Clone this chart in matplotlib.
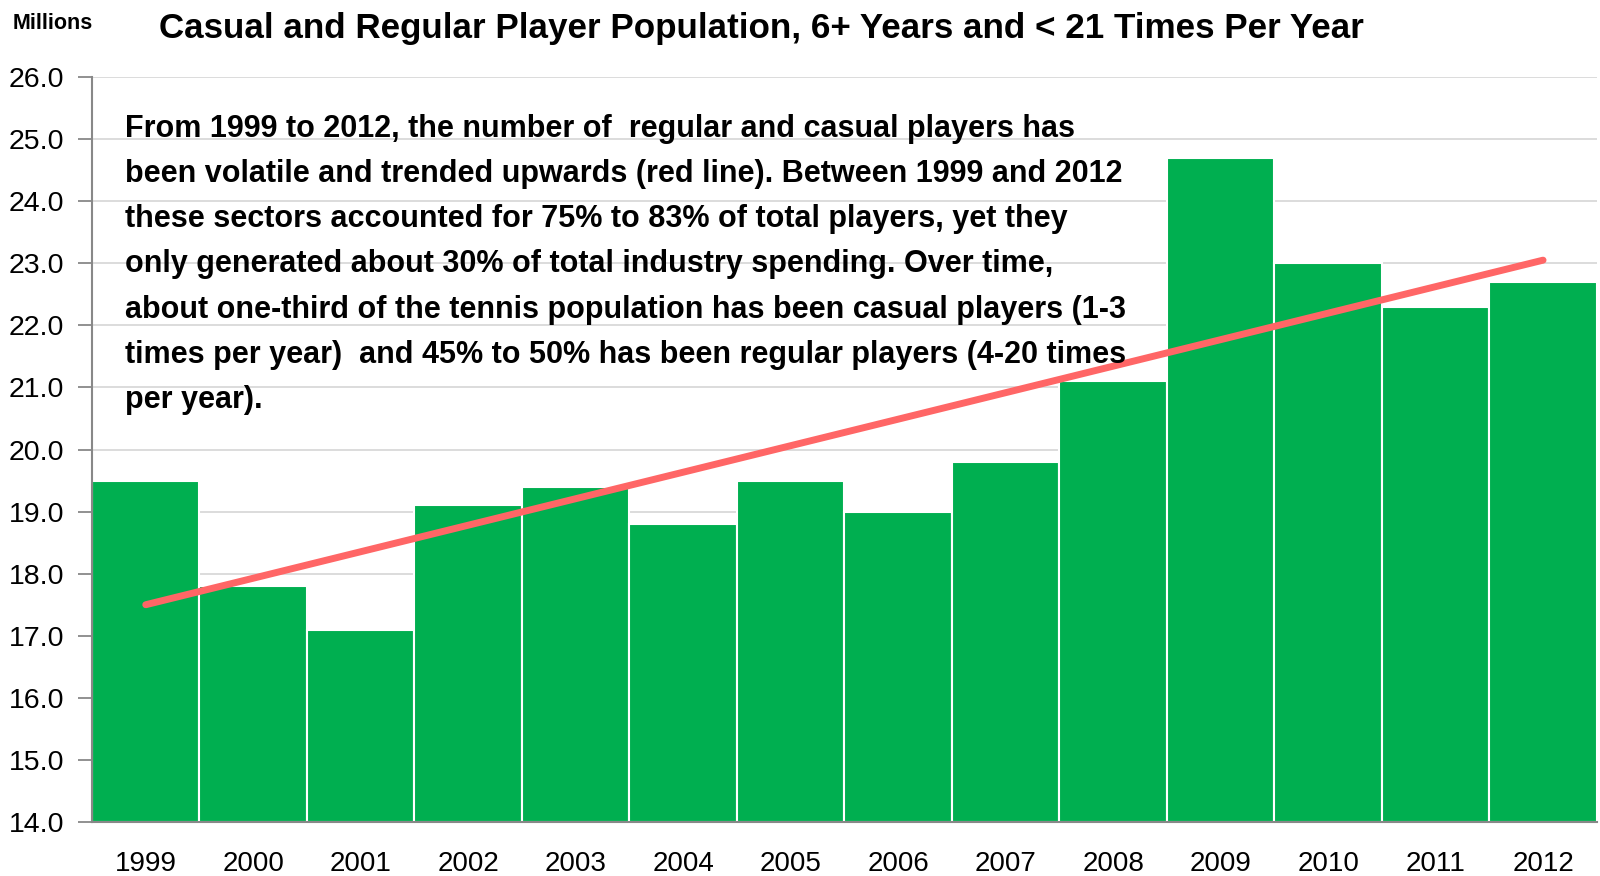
import matplotlib; matplotlib.use("Agg")
import matplotlib.pyplot as plt
import numpy as np

YEARS = ["1999","2000","2001","2002","2003","2004","2005","2006","2007","2008","2009","2010","2011","2012"]
PLAYERS = [19.5,17.8,17.1,19.1,19.4,18.8,19.5,19.0,19.8,21.1,24.7,23.0,22.3,22.7]
TREND = [17.5,23.05]   # trend line at 1999 and 2012
YTICKS = [14,15,16,17,18,19,20,21,22,23,24,25,26]

NOTE = ("From 1999 to 2012, the number of  regular and casual players has\n"
        "been volatile and trended upwards (red line). Between 1999 and 2012\n"
        "these sectors accounted for 75% to 83% of total players, yet they\n"
        "only generated about 30% of total industry spending. Over time,\n"
        "about one-third of the tennis population has been casual players (1-3\n"
        "times per year)  and 45% to 50% has been regular players (4-20 times\n"
        "per year).")

FAM = ["Liberation Sans Narrow", "Liberation Sans", "DejaVu Sans"]
plt.rcParams["font.family"] = FAM

fig = plt.figure(figsize=(16, 8.76), dpi=100)
ax = fig.add_axes([0.0575, 0.0616, 0.9405, 0.8505])
x = np.arange(len(YEARS))
ax.bar(x, [v - 14 for v in PLAYERS], bottom=14, width=1.0, color="#00AF50",
       edgecolor="white", lw=1.5, zorder=2)
ax.plot([x[0], x[-1]], TREND, color="#FF6666", lw=5, solid_capstyle="round", zorder=3)

ax.set_xlim(-0.5, len(YEARS) - 0.5)
ax.set_ylim(14, 26)
ax.set_yticks(YTICKS)
ax.set_yticklabels([f"{v:.1f}" for v in YTICKS], fontsize=20.5)
ax.set_xticks(x)
ax.set_xticklabels(YEARS, fontsize=20)
ax.tick_params(axis="x", length=0, pad=21)
ax.tick_params(axis="y", length=10, color="#888888", width=1.3, pad=10)
ax.grid(axis="y", color="#D9D9D9", lw=1.3, zorder=0)
ax.set_axisbelow(True)
for s in ["top", "right"]:
    ax.spines[s].set_visible(False)
for s in ["left", "bottom"]:
    ax.spines[s].set_color("#888888"); ax.spines[s].set_linewidth(1.5)

fig.text(0.476, 0.967, "Casual and Regular Player Population, 6+ Years and < 21 Times Per Year",
         ha="center", va="center", fontsize=25.2, weight="bold")
fig.text(0.008, 0.973, "Millions", ha="left", va="center", fontsize=15.5, weight="bold")
fig.text(0.078, 0.870, NOTE, ha="left", va="top", fontsize=22, weight="bold", linespacing=1.66)

fig.savefig("out.png", facecolor="white")
